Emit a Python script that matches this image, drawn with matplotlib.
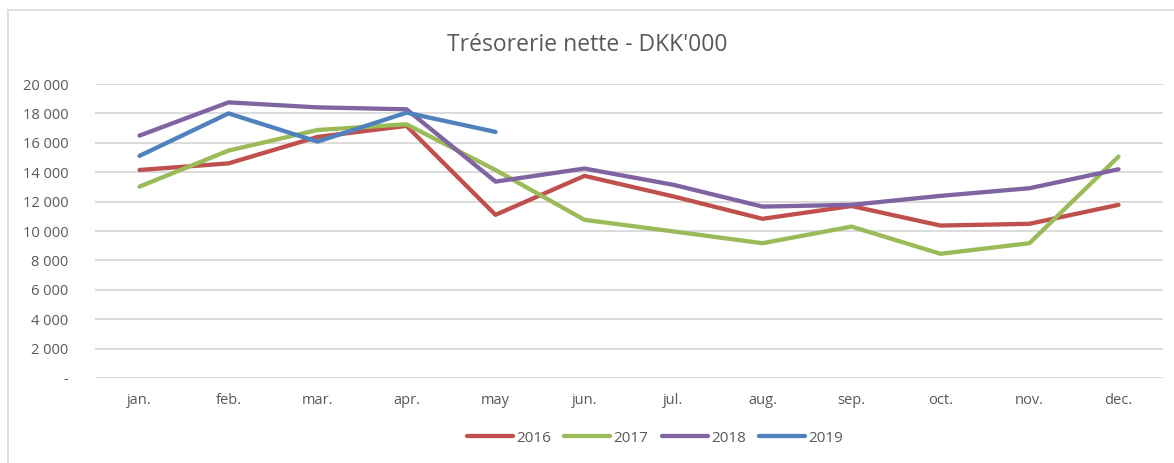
import matplotlib
matplotlib.use("Agg")
from matplotlib import pyplot as plt
from matplotlib.patches import Rectangle

# Net cash by month, DKK'000
months = ["jan.", "feb.", "mar.", "apr.", "may", "jun.", "jul.", "aug.", "sep.", "oct.", "nov.", "dec."]
years = ["2016", "2017", "2018", "2019"]
cash_2016 = [14150, 14600, 16400, 17150, 11100, 13750, 12350, 10830, 11700, 10370, 10490, 11780]
cash_2017 = [13020, 15470, 16870, 17260, 14150, 10760, 9970, 9170, 10300, 8450, 9170, 15060]
cash_2018 = [16490, 18750, 18410, 18280, 13360, 14250, 13140, 11660, 11780, 12390, 12910, 14200]
cash_2019 = [15110, 18000, 16080, 18050, 16740]
yticks = list(range(0, 20001, 2000))

colors = ["#C0504D", "#9BBB59", "#8064A2", "#4F81BD"]
text_gray = "#595959"

W, H = 1174, 463
fig = plt.figure(figsize=(W / 100, H / 100), dpi=100)
plt.rcParams["font.family"] = ["Open Sans", "DejaVu Sans"]

# chart border (only top and left visible in the crop)
fig.patches.append(Rectangle((8 / W, -0.1), 1.2, 1.1 - 10 / H, transform=fig.transFigure,
                             fill=False, edgecolor="#D9D9D9", linewidth=1.2))

ax = fig.add_axes([95 / W, 1 - 378 / H, (1163 - 95) / W, (378 - 84) / H])

series = [cash_2016, cash_2017, cash_2018, cash_2019]
for name, vals, c in zip(years, series, colors):
    ax.plot(range(len(vals)), vals, color=c, linewidth=3.1, label=name,
            solid_capstyle="round", solid_joinstyle="round")

ax.set_xlim(-0.5, len(months) - 0.5)
ax.set_ylim(0, 20000)
ax.set_xticks(range(len(months)))
ax.set_xticklabels(months)
ax.set_yticks(yticks)
ax.set_yticklabels(["-" if v == 0 else f"{v:,}".replace(",", " ") for v in yticks])
ax.yaxis.grid(True, color="#D9D9D9", linewidth=1.3)
ax.set_axisbelow(True)
for s in ax.spines.values():
    s.set_visible(False)
ax.tick_params(axis="both", length=0, colors=text_gray, labelsize=10.5)
ax.tick_params(axis="x", pad=11)
ax.tick_params(axis="y", pad=19)

fig.text(0.5, 1 - 45 / H, "Trésorerie nette - DKK'000", ha="center", va="center",
         fontsize=16.5, color=text_gray)

leg = fig.legend(loc="center", bbox_to_anchor=(655 / W, 1 - 438 / H), ncol=4, frameon=False,
                 fontsize=11, handlelength=3.0, columnspacing=0.9, handletextpad=0.2)
for t in leg.get_texts():
    t.set_color(text_gray)

fig.savefig("out.png", dpi=100)
